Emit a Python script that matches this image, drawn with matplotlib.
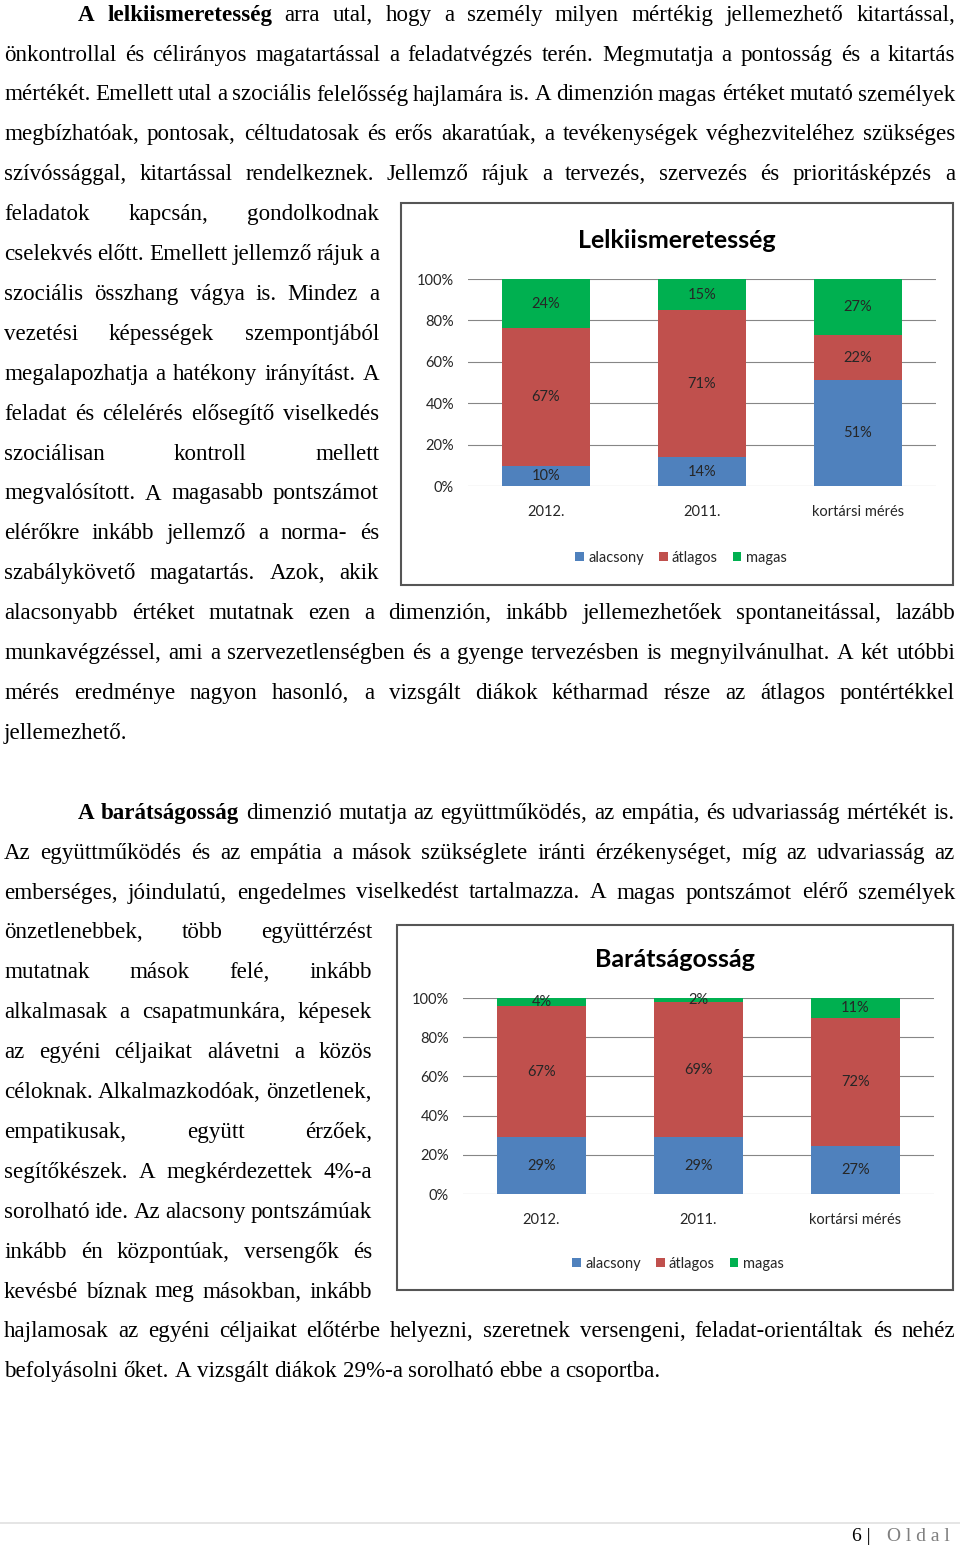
import matplotlib
matplotlib.use("Agg")
import matplotlib.pyplot as plt
from matplotlib.patches import Rectangle, Patch
from matplotlib.lines import Line2D

# ---------------------------
# Adatok
# ---------------------------
categories = ["2012.", "2011.", "kortársi mérés"]
series_names = ["alacsony", "átlagos", "magas"]
series_colors = ["#4F81BD", "#C0504D", "#00B050"]

lelk_alacsony = [10, 14, 51]
lelk_atlagos = [67, 71, 22]
lelk_magas = [24, 15, 27]

barat_alacsony = [29, 29, 27]
barat_atlagos = [67, 69, 72]
barat_magas = [4, 2, 11]

yticks = [0, 20, 40, 60, 80, 100]
ytick_labels = ["0%", "20%", "40%", "60%", "80%", "100%"]

# szöveg soronként, ahogy az oldalon van
para1 = [
    "A lelkiismeretesség arra utal, hogy a személy milyen mértékig jellemezhető kitartással,",
    "önkontrollal és célirányos magatartással a feladatvégzés terén. Megmutatja a pontosság és a kitartás",
    "mértékét. Emellett utal a szociális felelősség hajlamára is. A dimenzión magas értéket mutató személyek",
    "megbízhatóak, pontosak, céltudatosak és erős akaratúak, a tevékenységek véghezviteléhez szükséges",
    "szívóssággal, kitartással rendelkeznek. Jellemző rájuk a tervezés, szervezés és prioritásképzés a",
    "feladatok kapcsán, gondolkodnak",
    "cselekvés előtt. Emellett jellemző rájuk a",
    "szociális összhang vágya is. Mindez a",
    "vezetési képességek szempontjából",
    "megalapozhatja a hatékony irányítást. A",
    "feladat és célelérés elősegítő viselkedés",
    "szociálisan kontroll mellett",
    "megvalósított. A magasabb pontszámot",
    "elérőkre inkább jellemző a norma- és",
    "szabálykövető magatartás. Azok, akik",
    "alacsonyabb értéket mutatnak ezen a dimenzión, inkább jellemezhetőek spontaneitással, lazább",
    "munkavégzéssel, ami a szervezetlenségben és a gyenge tervezésben is megnyilvánulhat. A két utóbbi",
    "mérés eredménye nagyon hasonló, a vizsgált diákok kétharmad része az átlagos pontértékkel",
    "jellemezhető.",
]
para2 = [
    "A barátságosság dimenzió mutatja az együttműködés, az empátia, és udvariasság mértékét is.",
    "Az együttműködés és az empátia a mások szükséglete iránti érzékenységet, míg az udvariasság az",
    "emberséges, jóindulatú, engedelmes viselkedést tartalmazza. A magas pontszámot elérő személyek",
    "önzetlenebbek, több együttérzést",
    "mutatnak mások felé, inkább",
    "alkalmasak a csapatmunkára, képesek",
    "az egyéni céljaikat alávetni a közös",
    "céloknak. Alkalmazkodóak, önzetlenek,",
    "empatikusak, együtt érzőek,",
    "segítőkészek. A megkérdezettek 4%-a",
    "sorolható ide. Az alacsony pontszámúak",
    "inkább én központúak, versengők és",
    "kevésbé bíznak meg másokban, inkább",
    "hajlamosak az egyéni céljaikat előtérbe helyezni, szeretnek versengeni, feladat-orientáltak és nehéz",
    "befolyásolni őket. A vizsgált diákok 29%-a sorolható ebbe a csoportba.",
]

# ---------------------------
# Oldal
# ---------------------------
W, H = 960, 1545
fig = plt.figure(figsize=(W / 100, H / 100), dpi=100)
fig.patch.set_facecolor("white")
renderer = fig.canvas.get_renderer()

SERIF = "Liberation Serif"
SANS = "Lato"
FS = 16.6
LINE_H = 39.9
BASE0 = 20.7


def fx(x):
    return x / W


def fy(y):
    return 1 - y / H


def text_width(s, bold=False):
    t = fig.text(0, 0, s, fontsize=FS, family=SERIF, weight="bold" if bold else "normal")
    w = t.get_window_extent(renderer).width
    t.remove()
    return w


SPACE = text_width("a a") - 2 * text_width("a")


def put_line(line, y, x0, x1, justify=True, n_bold=0):
    words = line.split()
    widths = [text_width(w, i < n_bold) for i, w in enumerate(words)]
    if justify and len(words) > 1:
        gap = (x1 - x0 - sum(widths)) / (len(words) - 1)
    else:
        gap = SPACE
    x = x0
    for i, (w, wd) in enumerate(zip(words, widths)):
        fig.text(fx(x), fy(y), w, fontsize=FS, family=SERIF,
                 weight="bold" if i < n_bold else "normal",
                 ha="left", va="baseline", color="black")
        x += wd + gap


def put_paragraph(lines, first_row, narrow, narrow_right):
    for i, line in enumerate(lines):
        y = BASE0 + (first_row + i) * LINE_H
        x0 = 78 if i == 0 else 4
        x1 = narrow_right if i in narrow else 955
        last = i == len(lines) - 1
        put_line(line, y, x0, x1, justify=not last, n_bold=2 if i == 0 else 0)


put_paragraph(para1, 0, range(5, 15), 379)
put_paragraph(para2, 20, range(3, 13), 372)


# ---------------------------
# Diagramok
# ---------------------------
def draw_chart(frame, plot, title, title_xy, legend_xy, series):
    x0, y0, x1, y1 = frame
    fig.patches.append(Rectangle((fx(x0), fy(y1)), (x1 - x0) / W, (y1 - y0) / H,
                                 transform=fig.transFigure, fill=False,
                                 ec="#555555", lw=1.5, zorder=0))
    l, t, r, b = plot
    ax = fig.add_axes([fx(l), fy(b), (r - l) / W, (b - t) / H])
    totals = [sum(v) for v in zip(*series)]
    xs = list(range(len(categories)))
    bottom = [0] * len(categories)
    for vals, name, c in zip(series, series_names, series_colors):
        h = [v / tot * 100 for v, tot in zip(vals, totals)]
        bars = ax.bar(xs, h, width=0.565, bottom=bottom, color=c, label=name, zorder=2)
        for rect, v in zip(bars, vals):
            ax.text(rect.get_x() + rect.get_width() / 2, rect.get_y() + rect.get_height() / 2,
                    f"{v}%", ha="center", va="center", fontsize=10.5, family=SANS,
                    color="#262626", zorder=3)
        bottom = [bb + hh for bb, hh in zip(bottom, h)]

    ax.set_xlim(-0.5, len(categories) - 0.5)
    ax.set_ylim(0, 100)
    ax.set_yticks(yticks)
    ax.set_yticklabels(ytick_labels, family=SANS, fontsize=10.5, color="#262626")
    ax.set_xticks(xs)
    ax.set_xticklabels(categories, family=SANS, fontsize=10.5, color="#262626")
    ax.tick_params(axis="y", length=0, pad=10)
    ax.tick_params(axis="x", length=0, pad=14)
    ax.yaxis.grid(True, color="#868686", lw=0.8)
    ax.set_axisbelow(True)
    for s in ax.spines.values():
        s.set_visible(False)
    ax.set_facecolor("none")

    fig.text(fx(title_xy[0]), fy(title_xy[1]), title, fontsize=18, family=SANS,
             weight="bold", ha="center", va="center", color="black")

    handles = [Patch(facecolor=c, edgecolor="none") for c in series_colors]
    fig.legend(handles, series_names, loc="center",
               bbox_to_anchor=(fx(legend_xy[0]), fy(legend_xy[1])),
               ncol=3, frameon=False, prop={"family": SANS, "size": 10.5},
               handlelength=0.6, handleheight=0.6, handletextpad=0.3,
               columnspacing=1.0, labelcolor="#262626")


draw_chart((401, 203, 953, 585), (468, 279, 936, 486), "Lelkiismeretesség",
           (677, 240), (681, 558), [lelk_alacsony, lelk_atlagos, lelk_magas])
draw_chart((397, 925, 953, 1290), (463, 998, 934, 1194), "Barátságosság",
           (675, 960), (678, 1264), [barat_alacsony, barat_atlagos, barat_magas])

# ---------------------------
# Lábléc
# ---------------------------
fig.lines.append(Line2D([0, 1], [fy(1522.5), fy(1522.5)], transform=fig.transFigure,
                        color="#e0e0e0", lw=1.2))
fig.text(fx(950), fy(1541), "O l d a l", fontsize=14, family=SERIF,
         color="#7f7f7f", ha="right", va="baseline")
fig.text(fx(876), fy(1541), "6 | ", fontsize=14, family=SERIF,
         color="black", ha="right", va="baseline")

fig.savefig("out.png", dpi=100, facecolor="white")
